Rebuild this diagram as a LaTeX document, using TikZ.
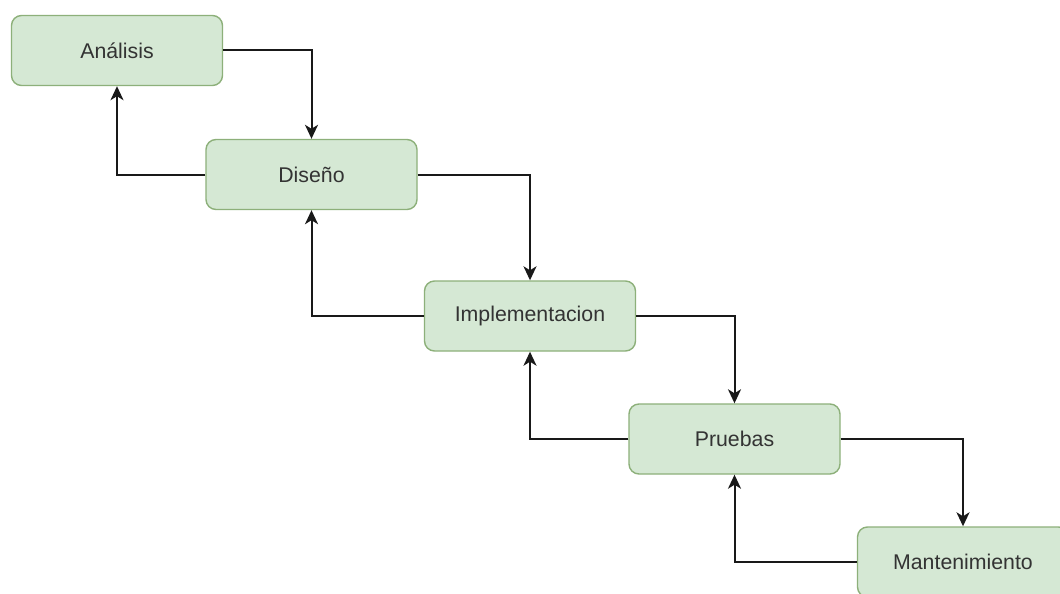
\documentclass[tikz,border=0pt]{standalone}
\usepackage{fontspec}
\setmainfont{Liberation Sans}
\usetikzlibrary{arrows.meta}
\definecolor{boxfill}{HTML}{D5E8D4}
\definecolor{boxline}{HTML}{8DB07A}
\definecolor{txt}{HTML}{333333}
\begin{document}
\begin{tikzpicture}[x=1pt,y=-1pt,
  phase/.style={draw=boxline, line width=1.4pt, fill=boxfill, rounded corners=10pt,
    minimum width=211pt, minimum height=70pt, inner sep=0pt, text=txt,
    font=\fontsize{21.3}{25}\selectfont, anchor=center},
  flow/.style={draw=black!90, line width=2pt, -{Stealth[length=14pt,width=13pt,inset=4pt]}}]
\useasboundingbox (0,0) rectangle (1060,594);
\begin{scope}
\clip (0,0) rectangle (1060,594);
\fill[white] (0,0) rectangle (1060,594);
\node[phase] (a) at (117,50.5) {Análisis};
\node[phase] (d) at (311.5,174.5) {Diseño};
\node[phase] (i) at (530,316) {Implementacion};
\node[phase] (p) at (734.5,439) {Pruebas};
\node[phase] (m) at (963,562) {Mantenimiento};
\draw[flow] (a.east) -| (d.north);
\draw[flow] (d.west) -| (a.south);
\draw[flow] (d.east) -| (i.north);
\draw[flow] (i.west) -| (d.south);
\draw[flow] (i.east) -| (p.north);
\draw[flow] (p.west) -| (i.south);
\draw[flow] (p.east) -| (m.north);
\draw[flow] (m.west) -| (p.south);
\end{scope}
\end{tikzpicture}
\end{document}
